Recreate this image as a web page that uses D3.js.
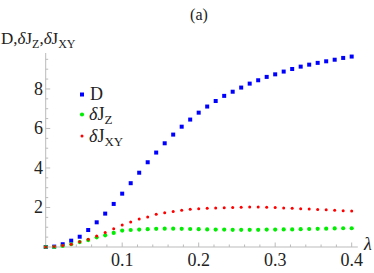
<!DOCTYPE html>
<html><head><meta charset="utf-8">
<script src="https://cdn.jsdelivr.net/npm/d3@7"></script>
</head><body style="margin:0">
<script>
const lambdaStep = 1/90;
const D = [0,0.02,0.14,0.32,0.52,0.86,1.25,1.69,2.18,2.70,3.23,3.76,4.29,4.78,5.25,5.69,6.09,6.45,6.80,7.11,7.39,7.65,7.86,8.07,8.27,8.44,8.61,8.74,8.88,9.01,9.13,9.23,9.32,9.40,9.48,9.57,9.64];
const dJZ = [0,0,0.05,0.14,0.25,0.35,0.49,0.59,0.71,0.83,0.86,0.88,0.90,0.92,0.93,0.93,0.92,0.91,0.90,0.89,0.88,0.88,0.87,0.87,0.87,0.87,0.88,0.88,0.89,0.89,0.90,0.91,0.92,0.93,0.94,0.95,0.95];
const dJXY = [0,0.02,0.07,0.14,0.27,0.39,0.56,0.74,0.93,1.11,1.26,1.42,1.52,1.66,1.73,1.80,1.86,1.91,1.93,1.96,1.97,1.99,2.00,2.01,2.02,2.02,2.01,2.00,1.98,1.96,1.94,1.92,1.90,1.88,1.86,1.84,1.82];
const xTicks = [0.1,0.2,0.3,0.4];
const yTicks = [2,4,6,8];
const xTickLabels = ["0.1","0.2","0.3","0.4"];
const yTickLabels = ["2","4","6","8"];

const W=374,H=273;
const svg=d3.select("body").append("svg").attr("width",W).attr("height",H).style("display","block");
const T=(sel,size)=>sel.append("text").style("font-family","Times New Roman").attr("font-size",size).attr("fill","#222");
const x=d3.scaleLinear().domain([0,0.408]).range([45.7,357.8]);
const y=d3.scaleLinear().domain([0,9.82]).range([247,53]);
const axisCol="#bbbbbb";

svg.append("line").attr("x1",x(0)).attr("x2",x(0.408)).attr("y1",y(0)).attr("y2",y(0)).attr("stroke",axisCol).attr("stroke-width",1);
svg.append("line").attr("x1",x(0)).attr("x2",x(0)).attr("y1",y(0)).attr("y2",y(9.82)).attr("stroke",axisCol).attr("stroke-width",1);

const xMinor=d3.range(0.02,0.41,0.02);
xMinor.forEach(t=>{const major=Math.abs(t*10-Math.round(t*10))<1e-6;
 svg.append("line").attr("x1",x(t)).attr("x2",x(t)).attr("y1",y(0)).attr("y2",y(0)-(major?4.5:2.5)).attr("stroke",axisCol);});
xTicks.forEach((t,i)=>T(svg,18).attr("x",x(t)).attr("y",266).attr("text-anchor","middle").text(xTickLabels[i]));
const yMinor=d3.range(0.5,9.8,0.5);
yMinor.forEach(t=>{const major=Math.abs(t/2-Math.round(t/2))<1e-6;
 svg.append("line").attr("x1",x(0)).attr("x2",x(0)+(major?4.5:2.5)).attr("y1",y(t)).attr("y2",y(t)).attr("stroke",axisCol);});
yTicks.forEach((t,i)=>T(svg,18).attr("x",43).attr("y",y(t)+6).attr("text-anchor","end").text(yTickLabels[i]));

const lam=i=>i*lambdaStep;
svg.append("g").selectAll("rect").data(D).join("rect")
 .attr("x",(d,i)=>x(lam(i))-2).attr("y",d=>y(d)-2).attr("width",4).attr("height",4).attr("fill","#0000ff");
svg.append("g").selectAll("circle").data(dJZ).join("circle")
 .attr("cx",(d,i)=>x(lam(i))).attr("cy",d=>y(d)).attr("r",2.1).attr("fill","#00ee00");
svg.append("g").selectAll("circle").data(dJXY).join("circle")
 .attr("cx",(d,i)=>x(lam(i))).attr("cy",d=>y(d)).attr("r",1.5).attr("fill","#ff0000");

const lg=svg.append("g");
lg.append("rect").attr("x",80).attr("y",92.5).attr("width",4).attr("height",4).attr("fill","#0000ff");
lg.append("circle").attr("cx",82).attr("cy",114.5).attr("r",2.1).attr("fill","#00ee00");
lg.append("circle").attr("cx",82).attr("cy",136).attr("r",1.5).attr("fill","#ff0000");
T(lg,18).attr("x",90).attr("y",100).text("D");
const t2=T(lg,18).attr("x",89).attr("y",120);
t2.append("tspan").attr("font-style","italic").text("δ");t2.append("tspan").text("J");
t2.append("tspan").attr("font-size",13).attr("dy",4).text("Z");
const t3=T(lg,18).attr("x",89).attr("y",142);
t3.append("tspan").attr("font-style","italic").text("δ");t3.append("tspan").text("J");
t3.append("tspan").attr("font-size",13).attr("dy",4).text("XY");

const yl=T(svg,17).attr("x",1).attr("y",44);
yl.append("tspan").text("D,");
yl.append("tspan").attr("font-style","italic").text("δ");yl.append("tspan").text("J");
yl.append("tspan").attr("font-size",12).attr("dy",4).text("Z");
yl.append("tspan").attr("dy",-4).text(",");
yl.append("tspan").attr("font-style","italic").text("δ");yl.append("tspan").text("J");
yl.append("tspan").attr("font-size",12).attr("dy",4).text("XY");

T(svg,18).attr("x",364).attr("y",250).attr("font-style","italic").text("λ");
T(svg,16).attr("x",199).attr("y",20).attr("text-anchor","middle").text("(a)");
</script>
</body></html>
